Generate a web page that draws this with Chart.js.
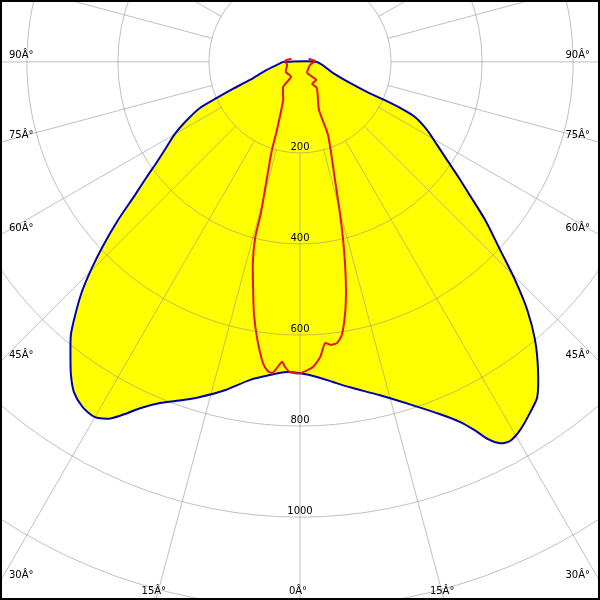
<!DOCTYPE html>
<html>
<head>
<meta charset="utf-8">
<script src="https://cdn.jsdelivr.net/npm/chart.js@4/dist/chart.umd.min.js"></script>
<style>
  html, body { margin: 0; padding: 0; background: #fff; overflow: hidden; }
  #wrap { position: relative; width: 600px; height: 600px; }
  #frame { position: absolute; left: 0; top: 0; width: 600px; height: 600px; box-sizing: border-box; border: 2px solid #000; pointer-events: none; }
</style>
</head>
<body>
<div id="wrap">
  <canvas id="c" width="600" height="600"></canvas>
  <div id="frame"></div>
</div>
<script>
// Angles in degrees measured from nadir (0 = straight down), negative = left half, positive = right half.
const blueAngles = [-90, -76.4, -70.2, -68.1, -66.6, -65.3, -62.6, -60.1, -57.3, -55, -53.1, -51.1, -49, -47, -45.3, -43.5, -41.6, -40, -38, -36.2, -34.4, -32.2, -30, -28, -26.2, -24.8, -22.3, -19.1, -16.6, -12.9, -8.9, -5.5, -2.4, 0, 3.1, 5.9, 8.7, 13.5, 17.8, 21.7, 24, 25.4, 26.5, 27.7, 29, 30.9, 33.2, 35.3, 37.7, 40.2, 42.5, 44.6, 46.8, 49.5, 51.8, 54, 56.3, 58.8, 61.8, 64.4, 65.3, 65.7, 65.9, 67.2, 71.6, 90];
const blueCd     = [37, 75, 117, 159, 199, 242, 282, 317, 350, 384, 421, 466, 530, 591, 643, 696, 744, 783, 819, 852, 879, 896, 901, 887, 860, 838, 810, 786, 768, 740, 707, 691, 682, 684, 693, 707, 723, 753, 790, 833, 866, 896, 926, 946, 952, 942, 922, 902, 855, 800, 739, 673, 603, 535, 476, 430, 388, 352, 317, 280, 242, 203, 161, 119, 76, 37];

const redAngles = [-110, -94, -77, -55, -31, -34, -24, -18.7, -17.7, -15.9, -14.5, -14.3, -13.2, -11.6, -10.4, -8.9, -7, -5.9, -5.1, -4.3, -3.4, -2.8, -1.8, 0, 2.4, 3.9, 5.1, 6.1, 7.5, 8.7, 10.2, 11.4, 12.6, 13.7, 14.8, 16.5, 21, 21.6, 33, 29, 42, 33, 73, 94, 110];
const redCd     = [20, 33, 29, 38, 38, 66, 91, 158, 203, 265, 343, 399, 454, 512, 561, 612, 667, 683, 686, 674, 660, 671, 682, 684, 671, 650, 620, 625, 623, 607, 560, 511, 453, 398, 343, 271, 172, 113, 68, 55, 53, 29, 23, 33, 20];

const ringValues = [200, 400, 600, 800, 1000, 1200, 1400];
const ringLabels = ["200", "400", "600", "800", "1000"];
const angleTickValues = [90, 75, 60, 45, 30, 15, 0];
const angleTickSuffix = "Â°";
const spokeStepDeg = 15;

function toXY(angles, values, close) {
  const pts = angles.map((a, i) => {
    const r = a * Math.PI / 180;
    return { x: values[i] * Math.sin(r), y: -values[i] * Math.cos(r) };
  });
  if (close) pts.push(pts[0]);
  return pts;
}

const polarGrid = {
  id: 'polarGrid',
  beforeDatasetsDraw(chart) {
    const { ctx, chartArea: area, scales: { x, y } } = chart;
    const cx = x.getPixelForValue(0), cy = y.getPixelForValue(0);
    const rp = v => x.getPixelForValue(v) - cx;
    ctx.save();
    ctx.beginPath();
    ctx.rect(area.left, area.top, area.right - area.left, area.bottom - area.top);
    ctx.clip();
    ctx.strokeStyle = 'rgba(140,140,140,0.55)';
    ctx.lineWidth = 1;
    ringValues.forEach(v => {
      ctx.beginPath();
      ctx.arc(cx, cy, rp(v), 0, Math.PI * 2);
      ctx.stroke();
    });
    const r0 = rp(ringValues[0]);
    const r1 = rp(ringValues[ringValues.length - 1] * 1.3);
    for (let d = 0; d < 360; d += spokeStepDeg) {
      const t = d * Math.PI / 180;
      const sx = Math.sin(t), sy = Math.cos(t);
      ctx.beginPath();
      ctx.moveTo(cx + sx * r0, cy + sy * r0);
      ctx.lineTo(cx + sx * r1, cy + sy * r1);
      ctx.stroke();
    }
    ctx.fillStyle = '#000';
    ctx.font = '10px "DejaVu Sans"';
    ctx.textAlign = 'center';
    ctx.textBaseline = 'alphabetic';
    ringLabels.forEach((lab, i) => {
      ctx.fillText(lab, cx, cy + rp(ringValues[i]) - 3);
    });
    const sides = [];
    angleTickValues.forEach(a => {
      if (a === 0) sides.push(0); else { sides.push(-a); sides.push(a); }
    });
    sides.forEach(a => {
      const t = a * Math.PI / 180;
      const dx = Math.sin(t), dy = Math.cos(t);
      const tb = dy > 1e-6 ? (area.bottom - cy) / dy : Infinity;
      let ts = Infinity;
      if (dx < -1e-6) ts = (area.left - cx) / dx;
      if (dx > 1e-6) ts = (area.right - cx) / dx;
      const txt = Math.abs(a) + angleTickSuffix;
      if (ts <= tb) {
        const ey = cy + dy * ts;
        if (dx < 0) { ctx.textAlign = 'left'; ctx.fillText(txt, area.left + 9, ey - 4); }
        else { ctx.textAlign = 'right'; ctx.fillText(txt, area.right - 10, ey - 4); }
      } else {
        const ex = cx + dx * tb;
        ctx.textAlign = 'center';
        ctx.fillText(txt, ex - 2, area.bottom - 6);
      }
    });
    ctx.restore();
  }
};

new Chart(document.getElementById('c'), {
  type: 'scatter',
  data: {
    datasets: [
      {
        label: 'C0-C180',
        data: toXY(blueAngles, blueCd, true),
        showLine: true,
        borderColor: 'rgb(0,0,170)',
        backgroundColor: '#ffff00',
        borderWidth: 2,
        pointRadius: 0,
        tension: 0.25,
        fill: 'shape',
        order: 2
      },
      {
        label: 'C90-C270',
        data: toXY(redAngles, redCd, false),
        showLine: true,
        borderColor: 'rgb(230,20,20)',
        borderWidth: 2,
        pointRadius: 0,
        tension: 0.2,
        fill: false,
        order: 1
      }
    ]
  },
  options: {
    responsive: false,
    animation: false,
    devicePixelRatio: 1,
    layout: { padding: 0 },
    scales: {
      x: { type: 'linear', min: -659, max: 659, display: false },
      y: { type: 'linear', min: -1182, max: 136, display: false }
    },
    plugins: {
      legend: { display: false },
      tooltip: { enabled: false },
      filler: { drawTime: 'beforeDatasetsDraw' }
    }
  },
  plugins: [polarGrid]
});
</script>
</body>
</html>
